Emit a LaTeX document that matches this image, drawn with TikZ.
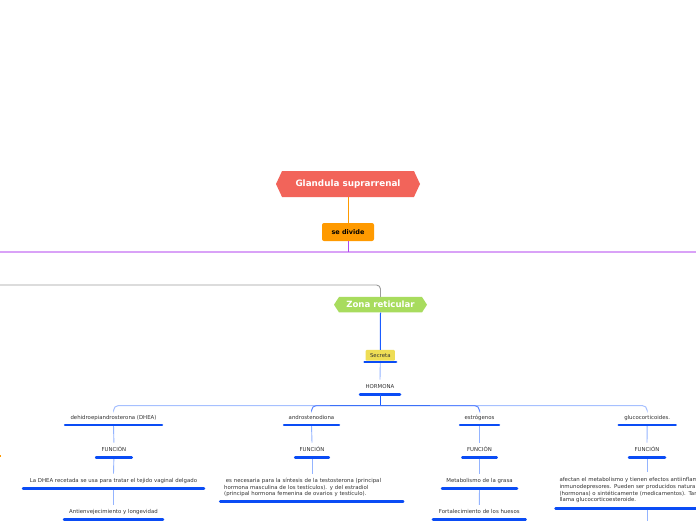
\documentclass[tikz,border=0pt]{standalone}
\usepackage{fontspec}
\setmainfont{DejaVu Sans}
\usetikzlibrary{shapes.symbols}
\definecolor{titlered}{HTML}{F2645A}
\definecolor{orng}{HTML}{FF9A00}
\definecolor{purp}{HTML}{B048EE}
\definecolor{lav}{HTML}{D9A2F7}
\definecolor{grayline}{HTML}{9C9C9C}
\definecolor{zgreen}{HTML}{A8DC5E}
\definecolor{ublue}{HTML}{0A4CF5}
\definecolor{zblue}{HTML}{1A5CFF}
\definecolor{lblue}{HTML}{94B4FF}
\definecolor{bmid}{HTML}{5F88FF}
\definecolor{bout}{HTML}{A6C0FF}
\definecolor{syellow}{HTML}{EEDD55}
\definecolor{txtgray}{HTML}{333333}
\begin{document}
\begin{tikzpicture}[x=1pt,y=-1pt,
  txt/.style={font=\fontsize{5.4}{6.5}\selectfont, text=txtgray, inner xsep=0pt, inner ysep=4.5pt,
    text height=4pt, text depth=1.2pt, align=center},
  para/.style={font=\fontsize{5.4}{6.55}\selectfont, text=txtgray, inner xsep=5pt, inner ysep=4.2pt,
    align=left},
  uline/.style={line width=2.5pt, draw=ublue, line cap=round, shorten <=1.2pt, shorten >=1.2pt},
  conn/.style={draw=lblue, line width=0.9pt},
  mainhex/.style={shape=signal, signal to=east and west, signal pointer angle=130, fill=titlered,
    text=white, font=\fontsize{8.8}{10}\selectfont\bfseries, minimum width=144pt, minimum height=26pt, inner sep=0pt},
  zonahex/.style={shape=signal, signal to=east and west, signal pointer angle=114, fill=zgreen,
    text=white, font=\fontsize{8.6}{10}\selectfont\bfseries, minimum width=93pt, minimum height=15.5pt, inner sep=0pt},
  divbox/.style={fill=orng, rounded corners=2pt, text=black, font=\fontsize{6.5}{8}\selectfont\bfseries,
    minimum width=52pt, minimum height=18pt, inner sep=0pt},
  secbox/.style={fill=syellow, rounded corners=1pt, text=txtgray, font=\fontsize{5.4}{6.5}\selectfont,
    minimum width=29.3pt, minimum height=10.7pt, inner sep=0pt}
]
\useasboundingbox (0,0) rectangle (696,520);
\clip (0,0) rectangle (696,520);
\fill[white] (0,0) rectangle (696,520);

% top
\node[mainhex] (title) at (348,184) {Glandula suprarrenal};
\node[divbox] (sediv) at (348,232) {se divide};
\coordinate (lavL) at (-10,251.6);
\coordinate (lavR) at (706,251.6);
\draw[orng, line width=1pt] (title.south) -- (sediv.north);
\draw[lav, line width=1.8pt] (lavL) -- (lavR);
\draw[purp, line width=1pt] (sediv.south) -- (sediv.south |- lavL);

% zona reticular
\node[zonahex] (zona) at (380.5,304.7) {Zona reticular};
\coordinate (gl) at (-10,285);
\draw[grayline, line width=0.9pt, rounded corners=4pt] (gl) -| (zona.north);

\node[secbox] (sec) at (380.3,355.3) {Secreta};
\draw[zblue, line width=1pt] (zona.south) -- (sec.north);
\node[txt, minimum width=42pt] (horm) at (380,387) {HORMONA};
\draw[conn] (sec.south) -- (horm.north);
\draw[line width=2.2pt, draw=ublue, line cap=round] (364.5,362.3) -- (396.2,362.3);
\draw[uline] (horm.south west) -- (horm.south east);

% level 1
\node[txt, minimum width=99pt] (dhea) at (113.5,417.7) {dehidroepiandrosterona (DHEA)};
\node[txt, minimum width=57pt] (andro) at (311.5,417.7) {androstenodiona};
\node[txt, minimum width=41pt] (estr) at (479.5,417.7) {estrógenos};
\node[txt, minimum width=59pt] (gluc) at (647.2,417.7) {glucocorticoides.};

\coordinate (hb) at (380,405.5);
\draw[zblue, line width=1pt] (horm.south) -- (hb);
\draw[bout, line width=1pt, rounded corners=5pt] (hb) -| (dhea.north);
\draw[bout, line width=1pt, rounded corners=5pt] (hb) -| (gluc.north);
\draw[bmid, line width=1pt, rounded corners=5pt] (hb) -| (andro.north);
\draw[bmid, line width=1pt, rounded corners=5pt] (hb) -| (estr.north);
\draw[ublue!80!white, line width=1pt] (330,405.5) -- (430,405.5);

% FUNCIÓN
\node[txt, minimum width=37.7pt] (f1) at (113.9,450) {FUNCIÓN};
\node[txt, minimum width=35.7pt] (f2) at (312,450) {FUNCIÓN};
\node[txt, minimum width=36.4pt] (f3) at (479.5,450) {FUNCIÓN};
\node[txt, minimum width=38pt] (f4) at (647,450) {FUNCIÓN};

% level 3
\node[txt, minimum width=183pt] (d1) at (113.5,481) {La DHEA recetada se usa para tratar el tejido vaginal delgado};
\node[txt, minimum width=101pt] (d2) at (113.5,512.2) {Antienvejecimiento y longevidad};
\node[para, text width=175pt, anchor=south west] (a1) at (219,501.3)
  {\hspace*{1.7pt}es necesaria para la síntesis de la testosterona (principal\\
  hormona masculina de los testículos). y del estradiol\\
  (principal hormona femenina de ovarios y testículo).};
\node[txt, minimum width=77pt] (e1) at (479.5,481) {Metabolismo de la grasa};
\node[txt, minimum width=94.7pt] (e2) at (479.3,512.2) {Fortalecimiento de los huesos};
\node[para, text width=220pt, anchor=south west, inner ysep=5.4pt] (g1) at (554.3,508.3)
  {afectan el metabolismo y tienen efectos antiinflamatorios e\\
  inmunodepresores. Pueden ser producidos naturalmente\\
  (hormonas) o sintéticamente (medicamentos). También se les\\
  llama glucocorticoesteroide.};
\coordinate (gnext) at (647,530);

% vertical connectors
\draw[conn] (dhea.south) -- (f1.north);
\draw[conn] (f1.south) -- (d1.north);
\draw[conn] (d1.south) -- (d2.north);
\draw[conn] (andro.south) -- (f2.north);
\draw[conn] (f2.south) -- (f2.south |- a1.north);
\draw[conn] (estr.south) -- (f3.north);
\draw[conn] (f3.south) -- (e1.north);
\draw[conn] (e1.south) -- (e2.north);
\draw[conn] (gluc.south) -- (f4.north);
\draw[conn] (f4.south) -- (f4.south |- g1.north);
\draw[conn] (f4.south |- g1.south) -- (gnext);

% underlines
\foreach \n in {dhea,andro,estr,gluc,f1,f2,f3,f4,d1,d2,a1,e1,e2,g1}
  \draw[uline] (\n.south west) -- (\n.south east);

% orange fragment at left edge
\coordinate (ofrag) at (0,456.2);
\fill[orng] (ofrag) ++(-1,-1.2) rectangle ++(2.2,2.4);
\end{tikzpicture}
\end{document}
